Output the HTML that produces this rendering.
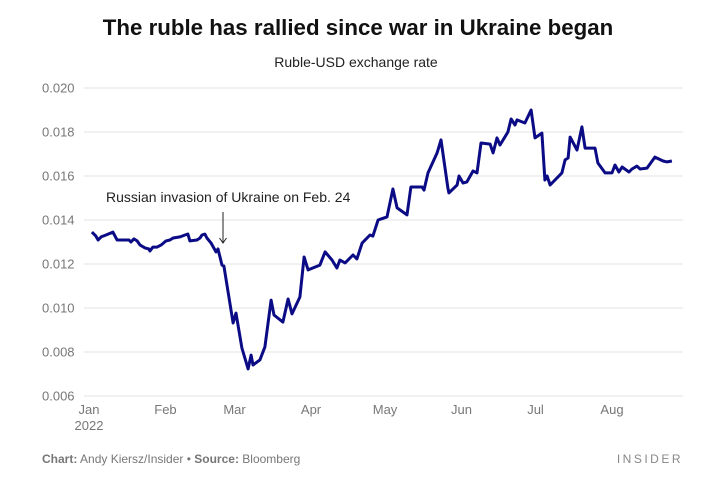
<!DOCTYPE html>
<html><head><meta charset="utf-8"><style>
body{margin:0;background:#fff;font-family:"Liberation Sans",sans-serif;}
svg{display:block}
</style></head><body>
<svg id="chart" width="713" height="480">
<text x="358" y="35" text-anchor="middle" font-size="22.3" font-weight="bold" fill="#111">The ruble has rallied since war in Ukraine began</text>
<text x="356" y="67" text-anchor="middle" font-size="14" fill="#222">Ruble-USD exchange rate</text>
<g id="grid"></g><g id="xlabels"></g>
<text x="106" y="202" font-size="14" fill="#222">Russian invasion of Ukraine on Feb. 24</text>
<g><line x1="223" y1="212" x2="223" y2="243" stroke="#222" stroke-width="1"/><path d="M219.5 238 L223 243 L226.5 238" fill="none" stroke="#222" stroke-width="1"/></g>
<path id="line" fill="none" stroke="#0b0b85" stroke-width="3" stroke-linejoin="round"/>
<text x="42" y="463" font-size="12" fill="#777"><tspan font-weight="bold">Chart:</tspan> Andy Kiersz/Insider • <tspan font-weight="bold">Source:</tspan> Bloomberg</text>
<text x="683" y="463" text-anchor="end" font-size="12" fill="#888" letter-spacing="2.5">INSIDER</text>
</svg>
<script>
const yTicks=[0.006,0.008,0.010,0.012,0.014,0.016,0.018,0.020];
const yTickLabels=["0.006","0.008","0.010","0.012","0.014","0.016","0.018","0.020"];
const monthStarts=[0,31,59,90,120,151,181,212];
const monthLabels=["Jan","Feb","Mar","Apr","May","Jun","Jul","Aug"];
const days=[1.6,3.2,4.1,5.3,7.3,10.1,11.8,16.6,17.4,18.6,19.9,21.1,23.1,24.7,25.1,26.3,28.0,29.6,31.6,33.2,34.5,37.3,39.3,40.5,41.3,44.2,45.4,46.2,47.4,48.2,49.9,51.9,52.7,54.3,55.1,58.8,60.0,62.4,64.9,66.1,66.9,69.7,71.7,74.2,75.4,79.0,81.1,82.7,85.9,87.6,89.2,94.0,96.1,98.9,100.9,102.1,104.2,107.4,109.0,111.1,114.3,115.5,117.6,121.2,123.6,125.3,129.3,130.9,135.4,136.2,137.8,141.5,143.1,145.9,146.3,149.6,150.4,152.0,153.6,156.1,157.7,159.3,163.0,164.2,165.8,167.0,170.2,171.5,173.1,173.9,177.1,179.6,181.2,184.0,185.2,186.1,187.3,192.1,193.4,194.6,195.4,198.2,200.2,201.5,205.5,206.7,209.6,212.4,213.6,215.2,216.5,219.3,220.5,222.5,223.8,226.6,229.8,233.1,234.7,236.7];
const rates=[.01345,.01327,.01309,.01323,.01332,.01345,.01309,.01309,.01300,.01314,.01305,.01286,.01273,.01268,.01259,.01277,.01277,.01286,.01305,.01309,.01318,.01323,.01332,.01336,.01305,.01309,.01318,.01332,.01336,.01318,.01295,.01255,.01268,.01195,.01191,.00932,.00977,.00818,.00723,.00786,.00741,.00764,.00823,.01036,.00968,.00936,.01041,.00973,.01050,.01232,.01173,.01195,.01255,.01218,.01182,.01218,.01205,.01241,.01223,.01295,.01332,.01327,.01400,.01414,.01541,.01455,.01423,.01550,.01550,.01536,.01614,.01705,.01764,.01545,.01523,.01559,.01600,.01568,.01573,.01623,.01614,.01750,.01745,.01705,.01773,.01741,.01800,.01859,.01832,.01855,.01841,.01900,.01773,.01795,.01582,.01600,.01559,.01614,.01673,.01682,.01777,.01718,.01823,.01727,.01727,.01659,.01614,.01614,.01650,.01618,.01641,.01618,.01632,.01645,.01632,.01636,.01686,.01668,.01664,.01668];
const NS="http://www.w3.org/2000/svg";
const x=d=>88+d*2.467;
const y=v=>88+(0.020-v)*22000;
const grid=document.getElementById('grid');
yTicks.forEach((t,i)=>{
  const l=document.createElementNS(NS,'line');
  l.setAttribute('x1',84);l.setAttribute('x2',683);l.setAttribute('y1',y(t));l.setAttribute('y2',y(t));
  l.setAttribute('stroke','#e3e3e3');l.setAttribute('stroke-width','1');
  
  
  grid.appendChild(l);
  const tx=document.createElementNS(NS,'text');
  tx.setAttribute('x',42);tx.setAttribute('y',y(t)+4.5);tx.setAttribute('font-size','13');tx.setAttribute('fill','#777');
  tx.textContent=yTickLabels[i];
  
  
  grid.appendChild(tx);
});
const xl=document.getElementById('xlabels');
monthStarts.forEach((d,i)=>{
  const tx=document.createElementNS(NS,'text');
  tx.setAttribute('x',x(d)+1);tx.setAttribute('y',414);tx.setAttribute('font-size','13');tx.setAttribute('fill','#777');tx.setAttribute('text-anchor','middle');
  tx.textContent=monthLabels[i];
  
  
  xl.appendChild(tx);
});
const yr=document.createElementNS(NS,'text');
yr.setAttribute('x',x(0)+1);yr.setAttribute('y',430);yr.setAttribute('font-size','13');yr.setAttribute('fill','#777');yr.setAttribute('text-anchor','middle');
yr.textContent='2022';


xl.appendChild(yr);
document.getElementById('line').setAttribute('d',days.map((d,i)=>(i?'L':'M')+x(d).toFixed(1)+' '+y(rates[i]).toFixed(1)).join(' '));
</script>
</body></html>
